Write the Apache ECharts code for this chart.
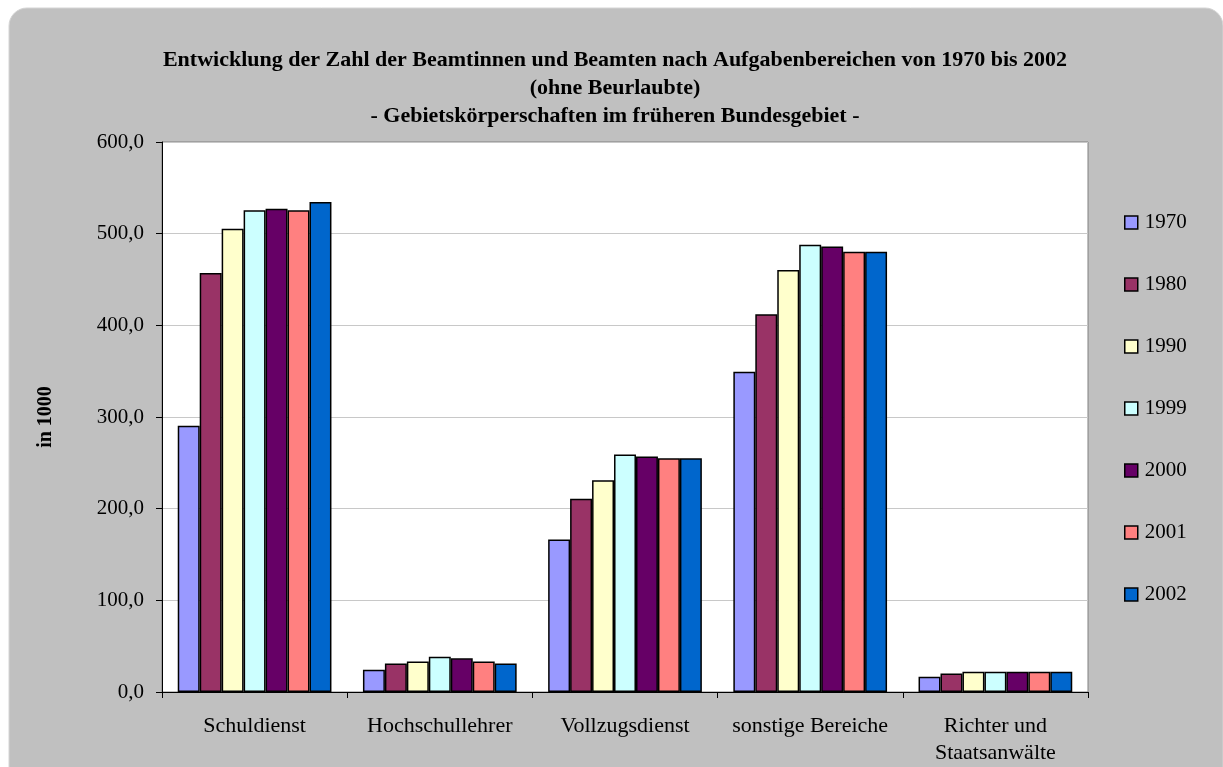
<!DOCTYPE html>
<html lang="de">
<head>
<meta charset="UTF-8">
<title>Beamtinnen und Beamte nach Aufgabenbereichen</title>
<script src="https://cdn.jsdelivr.net/npm/echarts@6/dist/echarts.min.js"></script>
<style>
  html, body { margin: 0; padding: 0; background: #fff; }
  #cc { width: 1223px; height: 767px; }
</style>
</head>
<body>
<div id="cc"></div>
<script>
var categories = ['Schuldienst', 'Hochschullehrer', 'Vollzugsdienst', 'sonstige Bereiche', 'Richter und\nStaatsanwälte'];
var years = ['1970', '1980', '1990', '1999', '2000', '2001', '2002'];
var colors = ['#9999FF', '#993366', '#FFFFCC', '#CCFFFF', '#660066', '#FF8080', '#0066CC'];

// in 1000, per year: Schuldienst, Hochschullehrer, Vollzugsdienst, sonstige, Richter
var v1970 = [290.5, 24.4, 166.4, 349.3, 16.7];
var v1980 = [457.2, 31.2, 210.7, 412.0, 20.3];
var v1990 = [505.4, 33.4, 231.0, 460.5, 22.2];
var v1999 = [525.5, 38.5, 259.0, 488.0, 22.2];
var v2000 = [527.3, 36.7, 256.8, 486.0, 22.2];
var v2001 = [525.5, 33.4, 255.0, 480.4, 22.2];
var v2002 = [534.5, 31.2, 255.0, 480.4, 22.2];
var values = [v1970, v1980, v1990, v1999, v2000, v2001, v2002];

var yTicks = { min: 0, max: 600, interval: 100 };

var serif = '"Liberation Serif", "DejaVu Serif", serif';

var chart = echarts.init(document.getElementById('cc'));

chart.setOption({
    backgroundColor: '#fff',
    animation: false,
    graphic: [{
        type: 'rect',
        z: -10,
        shape: { x: 9, y: 8, width: 1214, height: 800, r: 18 },
        style: { fill: '#c0c0c0', stroke: '#d4d4d4', lineWidth: 1 }
    }],
    title: {
        text: 'Entwicklung der Zahl der Beamtinnen und Beamten nach Aufgabenbereichen von 1970 bis 2002\n(ohne Beurlaubte)\n- Gebietskörperschaften im früheren Bundesgebiet -',
        left: 610,
        top: 41,
        textAlign: 'center',
        textStyle: {
            fontFamily: serif,
            fontWeight: 'bold',
            fontSize: 22,
            lineHeight: 28,
            color: '#000'
        }
    },
    legend: {
        orient: 'vertical',
        left: 1124,
        top: 212,
        padding: 0,
        itemWidth: 13,
        itemHeight: 13,
        itemGap: 41,
        icon: 'rect',
        data: years,
        itemStyle: { borderColor: '#000', borderWidth: 1.5 },
        textStyle: { fontFamily: serif, fontSize: 21, color: '#000', padding: [0, 0, 0, 2] }
    },
    grid: {
        left: 162,
        right: 135,
        top: 142,
        bottom: 75,
        show: true,
        backgroundColor: '#fff',
        borderColor: '#808080',
        borderWidth: 1
    },
    xAxis: {
        type: 'category',
        data: categories,
        axisLine: { lineStyle: { color: '#000', width: 1 } },
        axisTick: { show: true, length: 6, lineStyle: { color: '#000' } },
        axisLabel: {
            fontFamily: serif,
            fontSize: 22,
            color: '#000',
            margin: 21,
            lineHeight: 27,
            interval: 0
        }
    },
    yAxis: {
        type: 'value',
        min: yTicks.min,
        max: yTicks.max,
        interval: yTicks.interval,
        name: 'in 1000',
        nameLocation: 'middle',
        nameRotate: 90,
        nameGap: 106,
        nameTextStyle: { fontFamily: serif, fontWeight: 'bold', fontSize: 20, color: '#000' },
        axisLine: { show: true, lineStyle: { color: '#000', width: 1 } },
        axisTick: { show: true, length: 6, lineStyle: { color: '#000' } },
        splitLine: { lineStyle: { color: '#c8c8c8', width: 1 } },
        axisLabel: {
            fontFamily: serif,
            fontSize: 21,
            color: '#000',
            margin: 18,
            formatter: function (v) { return v.toFixed(1).replace('.', ','); }
        }
    },
    series: years.map(function (y, i) {
        return {
            name: y,
            type: 'bar',
            data: values[i],
            barGap: '0%',
            barCategoryGap: '17%',
            itemStyle: { color: colors[i], borderColor: '#000', borderWidth: 1.5 }
        };
    })
});
</script>
</body>
</html>
